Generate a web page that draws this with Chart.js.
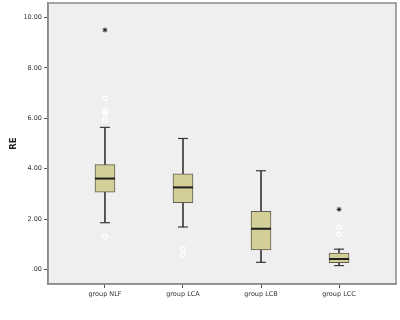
<!DOCTYPE html>
<html>
  <head>
    <title>RE box plot</title>
    <script src="https://cdn.jsdelivr.net/npm/chart.js@4/dist/chart.umd.min.js"></script>
    <style>
      html, body { margin: 0; padding: 0; background: #fff; }
      #wrap { width: 400px; height: 320px; }
    </style>
  </head>
  <body>
    <div id="wrap"><canvas id="canvas" width="400" height="320"></canvas></div>
    <script>
      // box plot values
      const groups = ['group NLF', 'group LCA', 'group LCB', 'group LCC'];
      const lowerWhisker = [1.86, 1.69, 0.29, 0.16];
      const q1 = [3.07, 2.65, 0.78, 0.28];
      const median = [3.61, 3.26, 1.62, 0.42];
      const q3 = [4.16, 3.80, 2.31, 0.66];
      const upperWhisker = [5.64, 5.20, 3.92, 0.81];
      // circles = outliers, stars = extremes
      const outliers = [[1.31, 5.93, 6.20, 6.30, 6.79], [0.61, 0.83], [], [1.40, 1.68]];
      const extremes = [[9.50], [], [], [2.39]];

      const boxFill = '#d4cf98';
      const ink = '#3a3a3a';

      const points = (lists) =>
        lists.flatMap((vals, i) => vals.map((v) => ({ x: i, y: v })));

      const plotFrame = {
        id: 'plotFrame',
        beforeDraw(chart) {
          const { ctx, chartArea: a } = chart;
          ctx.save();
          ctx.fillStyle = '#fff';
          ctx.fillRect(0, 0, chart.width, chart.height);
          ctx.fillStyle = '#efefef';
          ctx.fillRect(a.left, a.top, a.right - a.left, a.bottom - a.top);
          ctx.strokeStyle = '#8a8a8a';
          ctx.lineWidth = 1.5;
          ctx.strokeRect(a.left, a.top, a.right - a.left, a.bottom - a.top);
          ctx.restore();
        },
      };

      const ctx = document.getElementById('canvas').getContext('2d');
      new Chart(ctx, {
        type: 'bar',
        data: {
          datasets: [
            {
              // whisker stems, drawn behind the boxes
              label: 'whisker',
              data: groups.map((g, i) => ({ x: i, y: [lowerWhisker[i], upperWhisker[i]] })),
              backgroundColor: ink,
              barThickness: 1,
              order: 4,
            },
            {
              label: 'box',
              data: groups.map((g, i) => ({ x: i, y: [q1[i], q3[i]] })),
              backgroundColor: boxFill,
              borderColor: '#5e5c4c',
              borderWidth: 1,
              borderSkipped: false,
              barThickness: 20,
              order: 3,
            },
            {
              type: 'scatter',
              label: 'median',
              data: groups.map((g, i) => ({ x: i, y: median[i] })),
              pointStyle: 'line',
              radius: 10,
              borderWidth: 2,
              borderColor: '#1e1e1e',
              order: 1,
            },
            {
              type: 'scatter',
              label: 'caps',
              data: points(groups.map((g, i) => [lowerWhisker[i], upperWhisker[i]])),
              pointStyle: 'line',
              radius: 5,
              borderWidth: 1.2,
              borderColor: ink,
              order: 1,
            },
            {
              type: 'scatter',
              label: 'outliers',
              data: points(outliers),
              pointStyle: 'circle',
              radius: 2.2,
              borderWidth: 1.2,
              borderColor: '#ffffff',
              backgroundColor: 'rgba(0,0,0,0)',
              order: 1,
            },
            {
              type: 'scatter',
              label: 'extremes',
              data: points(extremes),
              pointStyle: 'star',
              radius: 2.4,
              borderWidth: 1,
              borderColor: '#222',
              order: 1,
            },
          ],
        },
        options: {
          responsive: false,
          animation: false,
          events: [],
          grouped: false,
          layout: { autoPadding: false, padding: { left: 0, right: 4, top: 3, bottom: 0 } },
          plugins: { legend: { display: false }, tooltip: { enabled: false } },
          scales: {
            x: {
              type: 'linear',
              min: -0.73,
              max: 3.73,
              offset: false,
              afterFit: (s) => {
                s.height = 36;
                s.paddingLeft = 0;
                s.paddingRight = 0;
              },
              grid: { offset: false, drawOnChartArea: false, tickLength: 4, color: '#555' },
              border: { color: '#8a8a8a', width: 1.5 },
              ticks: {
                stepSize: 1,
                includeBounds: false,
                autoSkip: false,
                maxRotation: 0,
                padding: 2,
                color: '#333',
                font: { family: 'DejaVu Sans', size: 6.5 },
                callback: (v) => groups[v] ?? '',
              },
            },
            y: {
              type: 'linear',
              min: -0.57,
              max: 10.57,
              afterFit: (s) => {
                s.width = 48;
                s.paddingTop = 0;
                s.paddingBottom = 0;
              },
              grid: { drawOnChartArea: false, tickLength: 4, color: '#555' },
              border: { color: '#8a8a8a', width: 1.5 },
              title: {
                display: true,
                text: 'RE',
                color: '#222',
                font: { family: 'DejaVu Sans', size: 8.5, weight: 'bold' },
                padding: { top: 9, bottom: 0 },
              },
              ticks: {
                stepSize: 2,
                includeBounds: false,
                padding: 2,
                color: '#333',
                font: { family: 'DejaVu Sans', size: 6.5 },
                callback: (v) => v.toFixed(2).replace(/^0\./, '.'),
              },
            },
          },
        },
        plugins: [plotFrame],
      });
    </script>
  </body>
</html>
